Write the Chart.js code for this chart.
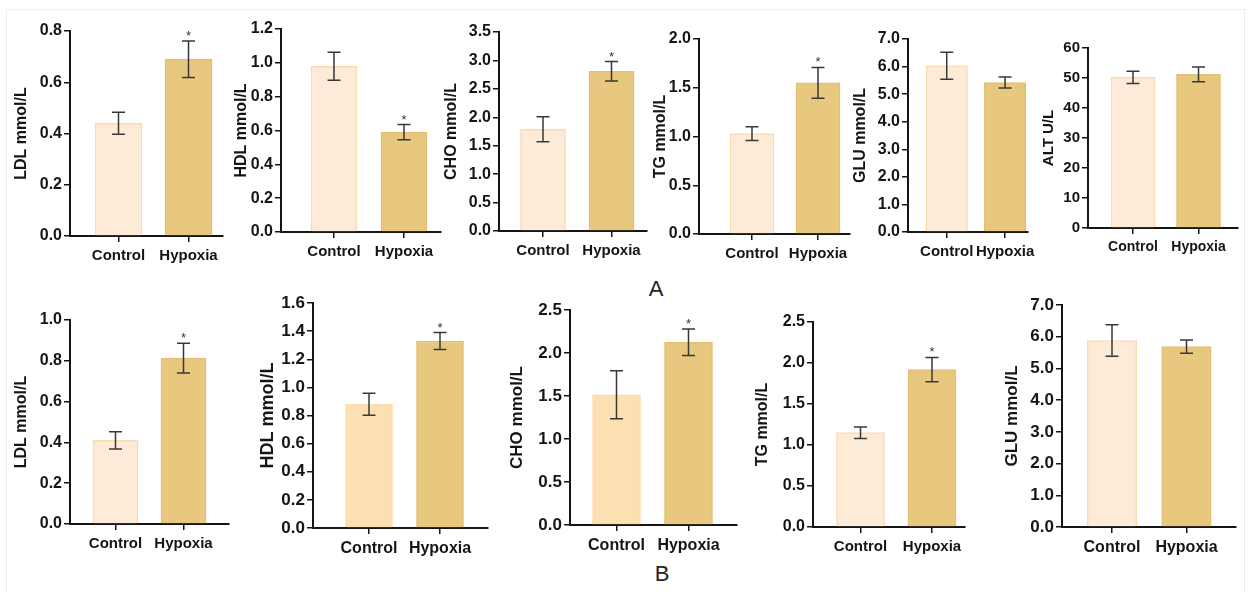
<!DOCTYPE html>
<html>
<head>
<meta charset="utf-8">
<script src="https://cdn.jsdelivr.net/npm/chart.js@4.4.1/dist/chart.umd.min.js"></script>
<style>
  html, body { margin: 0; padding: 0; background: #fff; }
  #fig { position: relative; width: 1248px; height: 592px; overflow: hidden; }
  #frame { position: absolute; left: 6px; top: 9px; width: 1237px; height: 600px; border: 1px solid #ededed; }
  canvas { position: absolute; }
  .tag { position: absolute; font: 22px 'Liberation Sans', Arial, sans-serif; color: #222; transform: translate(-50%, -50%); }
</style>
</head>
<body>
<div id="fig">
  <div id="frame"></div>
  <div class="tag" style="left:656px;top:289px">A</div>
  <div class="tag" style="left:662px;top:574px">B</div>
</div>
<script>
const categories = ['Control', 'Hypoxia'];
const yTitles = ['LDL mmol/L', 'HDL mmol/L', 'CHO mmol/L', 'TG mmol/L', 'GLU mmol/L', 'ALT U/L',
                 'LDL mmol/L', 'HDL mmol/L', 'CHO mmol/L', 'TG mmol/L', 'GLU mmol/L'];
const controlMeans = [0.44, 0.98, 1.79, 1.03, 6.03, 50.2, 0.41, 0.88, 1.515, 1.15, 5.88];
const controlErrs  = [0.043, 0.083, 0.22, 0.07, 0.49, 2.05, 0.042, 0.078, 0.28, 0.07, 0.495];
const hypoxiaMeans = [0.69, 0.59, 2.81, 1.55, 5.42, 51.2, 0.813, 1.33, 2.125, 1.92, 5.69];
const hypoxiaErrs  = [0.071, 0.045, 0.17, 0.158, 0.2, 2.45, 0.073, 0.06, 0.153, 0.148, 0.21];
const hypoxiaStar  = [true, true, true, true, false, false, true, true, true, true, false];
const yMax      = [0.8, 1.2, 3.5, 2.0, 7, 60, 1.0, 1.6, 2.5, 2.5, 7];
const yStep     = [0.2, 0.2, 0.5, 0.5, 1, 10, 0.2, 0.2, 0.5, 0.5, 1];
const yDecimals = [1, 1, 1, 1, 1, 0, 1, 1, 1, 1, 1];

// panel geometry: [axisX, topTickY, zeroY, axisEndX, controlX, hypoxiaX, barWidth, titleGap, tickFont, titleFont]
const layouts = [
  [70, 31, 236, 223, 118.5, 188.5, 47, 48, 16, 16],
  [281, 29, 232, 441, 334, 404, 46, 39, 16, 16],
  [499, 32, 231, 647, 543, 611.5, 45, 47, 16, 16],
  [699, 39, 234, 850, 752, 818, 44, 38, 16, 16],
  [908, 39, 232, 1036, 949.5, 1012, 41.5, 47, 16, 16],
  [1088, 48, 228, 1238, 1133, 1198.5, 44, 39, 15, 15],
  [70, 320, 524, 229, 115.5, 183.5, 45, 48, 16, 16],
  [313, 303, 528, 488, 369, 440, 47, 45, 17, 18],
  [570, 310, 525, 737, 616.5, 688.5, 48, 53, 17, 17],
  [813, 322, 527, 965, 860.5, 932, 48, 50, 16, 16],
  [1062, 305, 527, 1236, 1112, 1186.5, 49.5, 50, 17, 17]
];
const strongControl = [false, false, false, false, false, false, false, true, true, false, false];

const FONT = "'Liberation Sans', Arial, Helvetica, sans-serif";
const INK = '#151515';

function errorBarsFor(i) {
  const means = [controlMeans[i], hypoxiaMeans[i]];
  const errs = [controlErrs[i], hypoxiaErrs[i]];
  const stars = [false, hypoxiaStar[i]];
  return {
    id: 'errorBars' + i,
    afterDatasetsDraw(chart) {
      const meta = chart.getDatasetMeta(0);
      const y = chart.scales.y;
      const c = chart.ctx;
      c.save();
      c.strokeStyle = '#383838';
      c.lineWidth = 1.5;
      meta.data.forEach((bar, k) => {
        const top = y.getPixelForValue(means[k] + errs[k]);
        const bot = y.getPixelForValue(means[k] - errs[k]);
        c.beginPath();
        c.moveTo(bar.x, top); c.lineTo(bar.x, bot);
        c.moveTo(bar.x - 6.5, top); c.lineTo(bar.x + 6.5, top);
        c.moveTo(bar.x - 6.5, bot); c.lineTo(bar.x + 6.5, bot);
        c.stroke();
        if (stars[k]) {
          c.fillStyle = '#333';
          c.font = '13px ' + FONT;
          c.textAlign = 'center';
          c.textBaseline = 'alphabetic';
          c.fillText('*', bar.x, top - 1);
        }
      });
      c.restore();
    }
  };
}

const fig = document.getElementById('fig');

layouts.forEach((L, i) => {
  const [axisX, topY, zeroY, endX, cx, hx, barW, titleGap, fs, ts] = L;
  const padTop = 14, padRight = 4, xH = 42;
  const left = Math.round(axisX - titleGap - ts * 0.6);
  const yW = axisX - left;
  const top = topY - padTop;
  const w = endX + padRight - left;
  const h = zeroY + xH - top;

  const canvas = document.createElement('canvas');
  canvas.width = w; canvas.height = h;
  canvas.style.left = left + 'px';
  canvas.style.top = top + 'px';
  canvas.style.width = w + 'px';
  canvas.style.height = h + 'px';
  fig.appendChild(canvas);

  const spacing = hx - cx;
  const xMin = 1 - (cx - axisX) / spacing;
  const xMax = xMin + (endX - axisX) / spacing;

  const ctrlFill = strongControl[i] ? '#fde0b2' : '#fdebd8';
  const ctrlEdge = strongControl[i] ? '#fcdcab' : '#fcdab0';

  new Chart(canvas, {
    type: 'bar',
    data: {
      datasets: [{
        data: [{ x: 1, y: controlMeans[i] }, { x: 2, y: hypoxiaMeans[i] }],
        backgroundColor: [ctrlFill, '#e8c77f'],
        borderColor: [ctrlEdge, '#e3bf73'],
        borderWidth: 1.5,
        barThickness: barW
      }]
    },
    options: {
      responsive: false,
      animation: false,
      devicePixelRatio: 1,
      layout: { padding: { top: padTop, right: padRight, left: 0, bottom: 0 } },
      plugins: { legend: { display: false }, tooltip: { enabled: false } },
      scales: {
        x: {
          type: 'linear',
          offset: false,
          bounds: 'data',
          min: xMin,
          max: xMax,
          afterBuildTicks: s => { s.ticks = [{ value: 1 }, { value: 2 }]; },
          afterFit: s => { s.height = xH; },
          ticks: {
            callback: v => categories[v - 1],
            color: INK,
            font: { family: FONT, size: fs - 1, weight: 'bold' },
            padding: 5,
            maxRotation: 0,
            autoSkip: false
          },
          grid: { offset: false, drawOnChartArea: false, tickLength: 6, color: INK, lineWidth: 1.5 },
          border: { color: INK, width: 2 }
        },
        y: {
          min: 0,
          max: yMax[i],
          afterFit: s => { s.width = yW; },
          ticks: {
            stepSize: yStep[i],
            callback: v => v.toFixed(yDecimals[i]),
            color: INK,
            font: { family: FONT, size: fs, weight: 'bold' },
            padding: 2
          },
          title: {
            display: true,
            text: yTitles[i],
            color: INK,
            font: { family: FONT, size: ts, weight: 'bold' },
            padding: 0
          },
          grid: { drawOnChartArea: false, tickLength: 6, color: INK, lineWidth: 1.5 },
          border: { color: INK, width: 2 }
        }
      }
    },
    plugins: [errorBarsFor(i)]
  });
});
</script>
</body>
</html>
